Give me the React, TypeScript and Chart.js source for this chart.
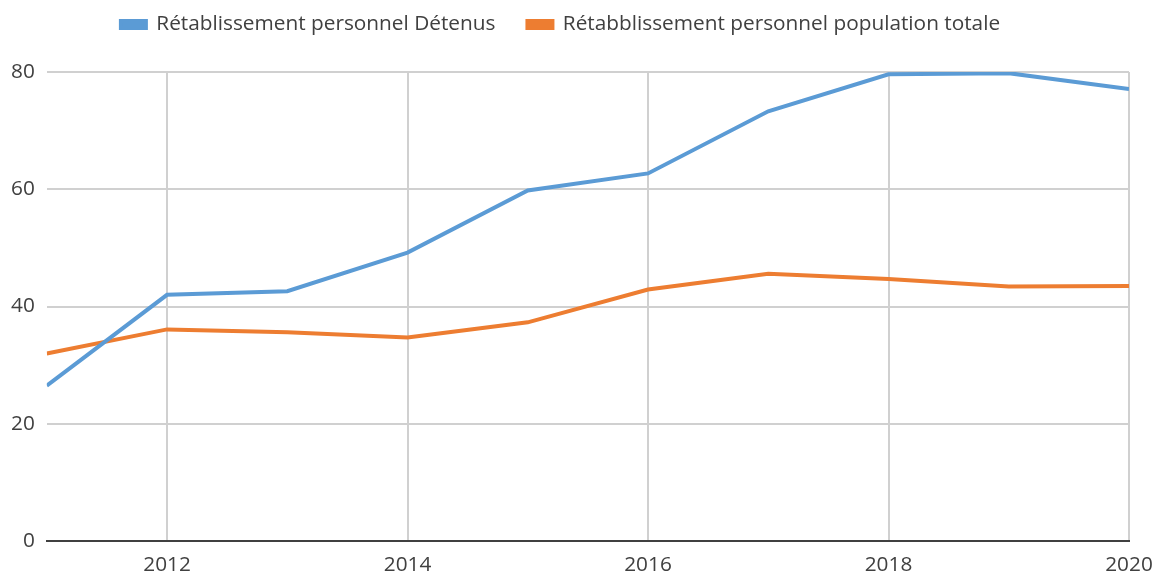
import React, { useEffect, useRef } from "react";
import { Chart, registerables } from "chart.js";

Chart.register(...registerables);

const years = [2011, 2012, 2013, 2014, 2015, 2016, 2017, 2018, 2019, 2020];
const detenus = [26.5, 42.0, 42.6, 49.2, 59.8, 62.7, 73.3, 79.6, 79.8, 77.1];
const populationTotale = [32.0, 36.1, 35.6, 34.7, 37.3, 42.9, 45.6, 44.7, 43.4, 43.5];
const xTicks = [2012, 2014, 2016, 2018, 2020];
const seriesNames = ["Rétablissement personnel Détenus", "Rétabblissement personnel population totale"];

const FONT = "'Open Sans', 'Noto Sans', sans-serif";
const FS = 20.8;

const legendShift = {
  id: "legendShift",
  afterLayout(chart: any) {
    if (chart.legend) {
      chart.legend.left -= 16;
      chart.legend.right -= 16;
    }
  },
};

export default function App() {
  const ref = useRef<HTMLCanvasElement | null>(null);
  useEffect(() => {
    if (!ref.current) return;
    const chart = new Chart(ref.current, {
      type: "line",
      plugins: [legendShift],
      data: {
        datasets: [
          {
            label: seriesNames[0],
            data: years.map((x, i) => ({ x, y: detenus[i] })),
            borderColor: "#5B9BD5",
            backgroundColor: "#5B9BD5",
            borderWidth: 4,
            pointRadius: 0,
            tension: 0,
          },
          {
            label: seriesNames[1],
            data: years.map((x, i) => ({ x, y: populationTotale[i] })),
            borderColor: "#ED7D31",
            backgroundColor: "#ED7D31",
            borderWidth: 4,
            pointRadius: 0,
            tension: 0,
          },
        ],
      },
      options: {
        animation: false,
        responsive: false,
        maintainAspectRatio: false,
        layout: { padding: { left: -1, right: 0, top: -18, bottom: -17 } },
        plugins: {
          tooltip: { enabled: false },
          title: {
            display: true,
            text: "",
            weight: 500,
            font: { size: 1 },
            padding: { top: 0, bottom: 26 },
          } as any,
          legend: {
            position: "top",
            labels: {
              boxWidth: 25,
              boxHeight: 7,
              padding: 32,
              color: "#404040",
              font: { family: FONT, size: FS },
            },
          },
        },
        scales: {
          x: {
            type: "linear",
            min: 2011,
            max: 2020,
            afterBuildTicks: (scale: any) => {
              scale.ticks = xTicks.map((v) => ({ value: v }));
            },
            afterFit: (scale: any) => {
              scale.paddingRight = 25;
            },
            grid: { color: "#D0D0D0", lineWidth: 2, drawTicks: false },
            border: { display: true, color: "#404040", width: 2 },
            ticks: {
              color: "#404040",
              font: { family: FONT, size: FS },
              padding: 12,
              maxRotation: 0,
              callback: (v: any) => String(v),
            },
          },
          y: {
            min: 0,
            max: 80,
            ticks: {
              stepSize: 20,
              color: "#404040",
              font: { family: FONT, size: FS },
              padding: 12,
            },
            grid: { color: "#D0D0D0", lineWidth: 2, drawTicks: false },
            border: { display: false },
          },
        },
      },
    });
    return () => chart.destroy();
  }, []);
  return (
    <div style={{ position: "fixed", left: 0, top: 0, width: 1154, height: 573, background: "#fff" }}>
      <canvas ref={ref} width={1154} height={573} />
    </div>
  );
}
